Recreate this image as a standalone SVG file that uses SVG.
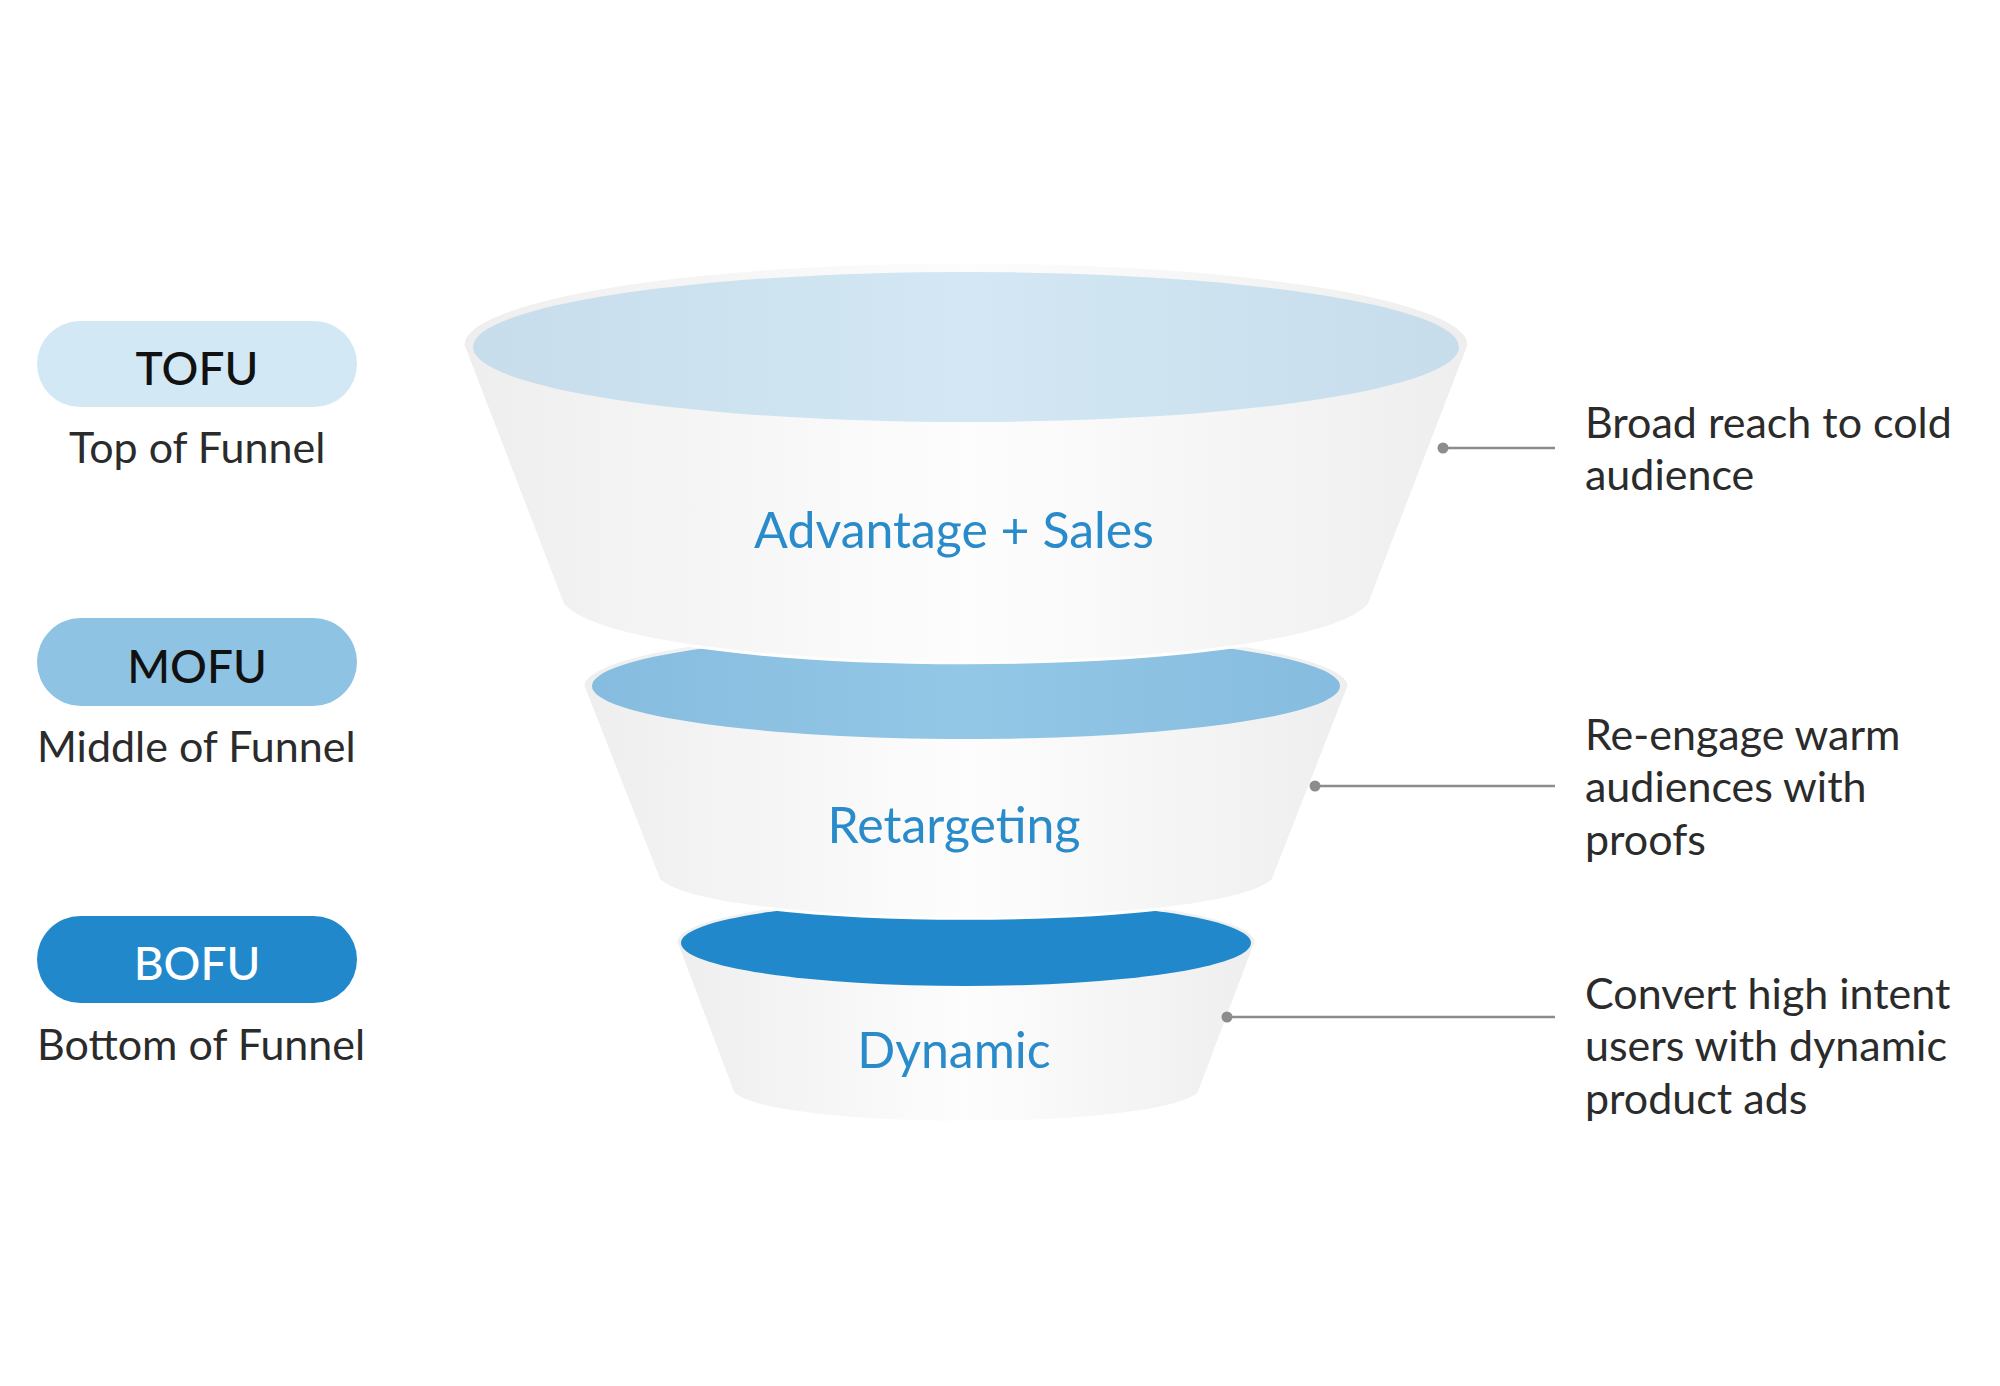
<svg xmlns="http://www.w3.org/2000/svg" width="2000" height="1386" viewBox="0 0 2000 1386">
<defs>
<linearGradient id="body" x1="0" y1="0" x2="1" y2="0">
<stop offset="0" stop-color="#EEEEEE"/>
<stop offset="0.5" stop-color="#FDFDFD"/>
<stop offset="1" stop-color="#EEEEEE"/>
</linearGradient>
<linearGradient id="g1" x1="0" y1="0" x2="1" y2="0">
<stop offset="0" stop-color="#C7DDEB"/>
<stop offset="0.5" stop-color="#D3E7F4"/>
<stop offset="1" stop-color="#C7DDEB"/>
</linearGradient>
<linearGradient id="g2" x1="0" y1="0" x2="1" y2="0">
<stop offset="0" stop-color="#86BCDF"/>
<stop offset="0.5" stop-color="#93C7E6"/>
<stop offset="1" stop-color="#86BCDF"/>
</linearGradient>
<style>
.body{fill:url(#body);stroke:#FFFFFF;stroke-width:3}
.lbl{font-family:Lato,"Liberation Sans",sans-serif;fill:#2A8BCB;text-anchor:middle;font-size:50px}
.pill{font-family:Lato,"Liberation Sans",sans-serif;font-size:46px;text-anchor:middle;font-weight:500}
.sub{font-family:Lato,"Liberation Sans",sans-serif;font-size:43px;fill:#2B2B2B}
.desc{font-family:Lato,"Liberation Sans",sans-serif;font-size:43px;fill:#2B2B2B}
.conn line{stroke:#8C8C8C;stroke-width:2.5}
.conn circle{fill:#8C8C8C}
</style>
</defs>
<rect width="2000" height="1386" fill="#FFFFFF"/>

<g id="stage-tofu-badge">
<rect x="37" y="321" width="320" height="86" rx="43" fill="#D3E8F5"/>
<text class="pill" x="197" y="385" fill="#111111">TOFU</text>
<text class="sub" x="69" y="463">Top of Funnel</text>
</g>
<g id="stage-mofu-badge">
<rect x="37" y="618" width="320" height="88" rx="44" fill="#8EC3E3"/>
<text class="pill" x="197" y="683" fill="#111111">MOFU</text>
<text class="sub" x="37" y="762">Middle of Funnel</text>
</g>
<g id="stage-bofu-badge">
<rect x="37" y="916" width="320" height="87" rx="43.5" fill="#2189CB"/>
<text class="pill" x="197" y="980" fill="#FFFFFF">BOFU</text>
<text class="sub" x="37" y="1060">Bottom of Funnel</text>
</g>

<g id="funnel-dynamic">
<path class="body" d="M676,942 L733,1093 C773,1132 1159,1132 1199,1093 L1256,942 A290,47 0 0 0 676,942 Z"/>
<ellipse cx="966" cy="943" rx="285" ry="43" fill="#2189CB"/>
<text class="lbl" x="954" y="1068">Dynamic</text>
</g>

<g id="funnel-retargeting">
<path class="body" d="M583,686 L659,880 C714,931 1218,931 1273,880 L1349,686 A383,59 0 0 0 583,686 Z"/>
<ellipse cx="966" cy="686" rx="374" ry="53" fill="url(#g2)"/>
<text class="lbl" x="954" y="843">Retargeting</text>
</g>

<g id="funnel-advantage">
<path class="body" d="M463,345 L563,605 C635,682 1297,682 1369,605 L1469,345 A503,83 0 0 0 463,345 Z"/>
<ellipse cx="966" cy="347" rx="493" ry="75" fill="url(#g1)"/>
<text class="lbl" x="954" y="548">Advantage + Sales</text>
</g>

<g id="connectors" class="conn">
<line x1="1443" y1="448" x2="1555" y2="448"/>
<circle cx="1443" cy="448" r="5.5"/>
<line x1="1315" y1="786" x2="1555" y2="786"/>
<circle cx="1315" cy="786" r="5.5"/>
<line x1="1227" y1="1017" x2="1555" y2="1017"/>
<circle cx="1227" cy="1017" r="5.5"/>
</g>

<g id="desc-tofu">
<text class="desc" x="1585" y="438">Broad reach to cold</text>
<text class="desc" x="1585" y="490">audience</text>
</g>
<g id="desc-mofu">
<text class="desc" x="1585" y="750">Re-engage warm</text>
<text class="desc" x="1585" y="802">audiences with</text>
<text class="desc" x="1585" y="855">proofs</text>
</g>
<g id="desc-bofu">
<text class="desc" x="1585" y="1009">Convert high intent</text>
<text class="desc" x="1585" y="1061">users with dynamic</text>
<text class="desc" x="1585" y="1114">product ads</text>
</g>
</svg>
